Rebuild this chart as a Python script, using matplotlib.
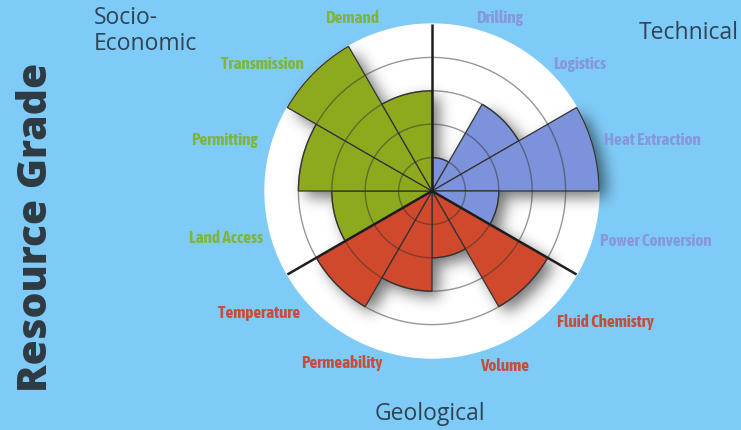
import numpy as np
import matplotlib.pyplot as plt
from matplotlib.patches import Circle

# resource grade scores, 0-5, one per criterion (angles in degrees, CCW from east)
technical = ["Drilling", "Logistics", "Heat Extraction", "Power Conversion"]
technical_scores = [1, 3, 5, 2]
geological = ["Fluid Chemistry", "Volume", "Permeability", "Temperature"]
geological_scores = [4, 2, 3, 4]
socio_economic = ["Land Access", "Permitting", "Transmission", "Demand"]
socio_economic_scores = [3, 4, 5, 3]

group_titles = ["Technical", "Geological", "Socio-\nEconomic"]
rings = [1, 2, 3, 4]
max_score = 5

bg = "#7fcbf7"
colors = {"tech": "#7c93dc", "geo": "#d0492c", "soc": "#8daa1f"}
label_colors = {"tech": "#8797dc", "geo": "#c44e3a", "soc": "#7fb53a"}
title_color = "#2e4355"
label_font = ["Asap Condensed", "Roboto Condensed", "DejaVu Sans"]
title_font = ["Open Sans", "DejaVu Sans"]

W, H, DPI = 741, 430, 100
cx, cy, rpx = 432, 191, 167          # chart centre and outer radius in pixels
rlim = 5.6
half = rpx * rlim / max_score

fig = plt.figure(figsize=(W / DPI, H / DPI), dpi=DPI, facecolor=bg)
pos = [(cx - half) / W, (H - cy - half) / H, 2 * half / W, 2 * half / H]

# sectors: 30 degrees each, technical from 90 going clockwise
width = np.deg2rad(30)
centers = np.deg2rad(np.array([75, 45, 15, -15, -45, -75, -105, -135, 195, 165, 135, 105]))
scores = np.array(technical_scores + geological_scores + socio_economic_scores)
groups = ["tech"] * 4 + ["geo"] * 4 + ["soc"] * 4

# background disc plus soft drop shadow of the wedges
bax = fig.add_axes(pos)
bax.set_xlim(-rlim, rlim)
bax.set_ylim(-rlim, rlim)
bax.axis("off")
bax.add_patch(Circle((0, 0), max_score, color="white", zorder=1))

n = 400
g = np.linspace(-rlim, rlim, n)
X, Y = np.meshgrid(g, g)
off = 0.2
Xs, Ys = X - off, Y + off
R = np.hypot(Xs, Ys)
T = np.arctan2(Ys, Xs)
mask = np.zeros_like(R)
for c, s in zip(centers, scores):
    d = np.angle(np.exp(1j * (T - c)))
    mask[(np.abs(d) <= width / 2) & (R <= s)] = 1.0
sig = 0.22 / (g[1] - g[0])
k = np.arange(-int(3 * sig), int(3 * sig) + 1)
kern = np.exp(-0.5 * (k / sig) ** 2)
kern /= kern.sum()
blur = np.apply_along_axis(lambda v: np.convolve(v, kern, mode="same"), 0, mask)
blur = np.apply_along_axis(lambda v: np.convolve(v, kern, mode="same"), 1, blur)
shadow = np.zeros((n, n, 4))
shadow[..., 3] = 0.55 * blur
bax.imshow(shadow, extent=(-rlim, rlim, -rlim, rlim), origin="lower", zorder=2)

# polar wedges on top
ax = fig.add_axes(pos, projection="polar")
ax.set_facecolor("none")
ax.patch.set_alpha(0)
ax.set_ylim(0, rlim)
ax.bar(centers, scores, width=width, bottom=0,
       color=[colors[gr] for gr in groups],
       edgecolor="#333333", linewidth=0.9, zorder=3)

th = np.linspace(0, 2 * np.pi, 361)
for r in rings:
    ax.plot(th, np.full_like(th, r), color="#303030", alpha=0.5, lw=1.0, zorder=4)
for a in [90, -30, 210]:
    ax.plot([0, np.deg2rad(a)], [0, max_score], color="#1e1e1e", lw=1.8,
            solid_capstyle="butt", zorder=5)
ax.grid(False)
ax.set_xticks([])
ax.set_yticks([])
ax.spines["polar"].set_visible(False)

# criterion labels
label_pos = {
    "Drilling": (500, 18), "Logistics": (580, 64), "Heat Extraction": (652, 140),
    "Power Conversion": (656, 241), "Fluid Chemistry": (605, 322), "Volume": (505, 366),
    "Permeability": (342, 363), "Temperature": (259, 313), "Land Access": (226, 238),
    "Permitting": (224, 140), "Transmission": (262, 64), "Demand": (352, 18),
}
names = technical + geological + socio_economic
for name, gr in zip(names, groups):
    x, y = label_pos[name]
    fig.text(x / W, 1 - y / H, name, ha="center", va="center", fontsize=12.3,
             fontweight="bold", color=label_colors[gr], family=label_font)

tfont = dict(family=title_font, fontsize=16.5, color=title_color)
fig.text(689 / W, 1 - 33 / H, group_titles[0], ha="center", va="center", **tfont)
fig.text(430 / W, 1 - 414 / H, group_titles[1], ha="center", va="center", **tfont)
fig.text(94 / W, 1 - 31 / H, group_titles[2], ha="left", va="center",
         linespacing=1.1, **tfont)

fig.text(37 / W, 1 - 227 / H, "Resource Grade", rotation=90, ha="center", va="center",
         family=title_font, fontweight="heavy", fontsize=29.3, color="#2f3a42")

fig.savefig("out.png", dpi=DPI, facecolor=bg)
